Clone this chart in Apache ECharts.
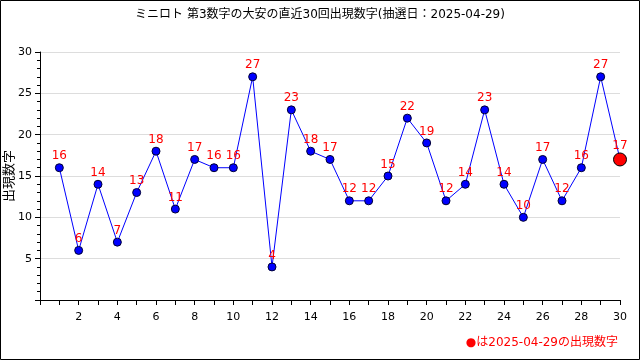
<!DOCTYPE html>
<html><head><meta charset="utf-8">
<script src="https://cdn.jsdelivr.net/npm/echarts@6/dist/echarts.min.js"></script>
<style>html,body{margin:0;padding:0;background:#fff}#c{width:640px;height:360px}</style>
</head><body><div id="c"></div>
<script>
const rounds = [1,2,3,4,5,6,7,8,9,10,11,12,13,14,15,16,17,18,19,20,21,22,23,24,25,26,27,28,29,30];
const values = [16,6,14,7,13,18,11,17,16,16,27,4,23,18,17,12,12,15,22,19,12,14,23,14,10,17,12,16,27,17];
const titleText = 'ミニロト 第3数字の大安の直近30回出現数字(抽選日：2025-04-29)';
const legendText = '●は2025-04-29の出現数字';
const yName = '出現数字';

const font = '"DejaVu Sans", "Noto Sans CJK JP", sans-serif';
const data = rounds.map((r, i) => {
  const last = i === rounds.length - 1;
  return {
    value: [r, values[i]],
    symbolSize: last ? 13 : 8,
    itemStyle: last ? {color: '#ff0000', borderColor: '#000', borderWidth: 1} : {color: '#0000ff', borderColor: '#000033', borderWidth: 1}
  };
});
const chart = echarts.init(document.getElementById('c'));
chart.setOption({
  animation: false,
  backgroundColor: '#fff',
  title: {text: titleText, left: 'center', top: 4, textStyle: {fontSize: 12, fontWeight: 'normal', color: '#000', fontFamily: font}},
  grid: {left: 40, right: 20, top: 52, bottom: 60, containLabel: false, outerBoundsMode: 'none'},
  xAxis: {
    type: 'value', min: 0, max: 30, interval: 2,
    axisLine: {lineStyle: {color: '#000'}},
    axisTick: {show: true, length: 5, lineStyle: {color: '#000'}},
    minorTick: {show: true, splitNumber: 2, length: 5, lineStyle: {color: '#000'}},
    axisLabel: {color: '#000', fontSize: 11, fontFamily: font, margin: 12, formatter: v => v === 0 ? '' : v},
    splitLine: {show: false}
  },
  yAxis: {
    type: 'value', min: 0, max: 30, interval: 5,
    axisLine: {show: true, lineStyle: {color: '#000'}},
    axisTick: {show: true, length: 5, lineStyle: {color: '#000'}},
    minorTick: {show: true, splitNumber: 5, length: 3, lineStyle: {color: '#000'}},
    axisLabel: {color: '#000', fontSize: 11, fontFamily: font, margin: 8, formatter: v => v === 0 ? '' : v},
    splitLine: {show: true, lineStyle: {color: '#dddddd'}}
  },
  series: [{
    type: 'line', data: data, symbol: 'circle',
    lineStyle: {color: '#0000ff', width: 1},
    label: {show: true, position: 'top', distance: 1, color: '#ff0000', fontSize: 12, fontFamily: font, formatter: p => p.value[1]},
    z: 3
  }],
  graphic: [
    {type: 'rect', shape: {x: 0.5, y: 0.5, width: 639, height: 359}, style: {fill: null, stroke: '#000', lineWidth: 1}, z: 10},
    {type: 'text', x: 10, y: 176, rotation: Math.PI / 2, style: {text: yName, fill: '#000', fontSize: 13, fontFamily: font, align: 'center', verticalAlign: 'middle'}},
    {type: 'text', right: 22, top: 337, style: {text: legendText, fill: '#ff0000', fontSize: 12, fontFamily: font}}
  ]
});
</script></body></html>
